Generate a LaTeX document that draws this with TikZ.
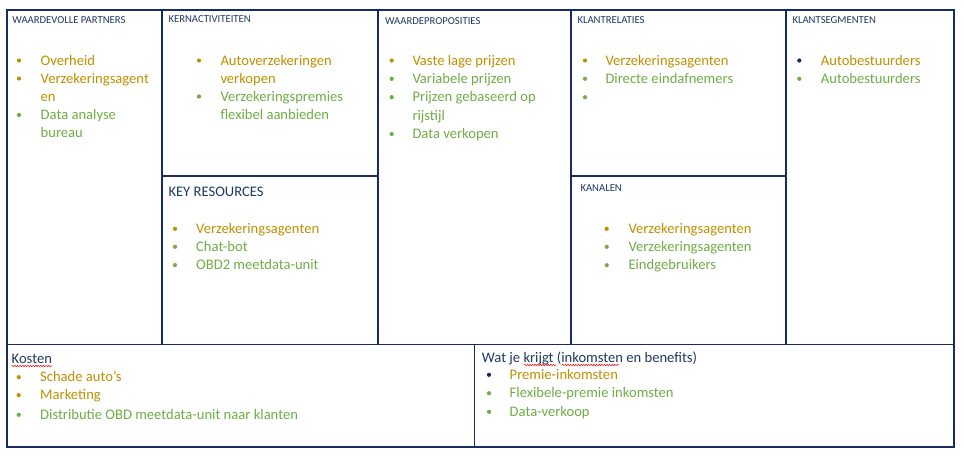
\documentclass[tikz,border=0pt]{standalone}
\usepackage{fontspec}
\setmainfont{Carlito}
\usetikzlibrary{decorations.pathmorphing}
\definecolor{navy}{RGB}{22,44,98}
\definecolor{headc}{RGB}{31,56,100}
\definecolor{goldc}{RGB}{191,144,0}
\definecolor{greenc}{RGB}{112,173,71}
\definecolor{spellred}{RGB}{230,30,30}
\tikzset{
  frame/.style={draw=navy, line width=1.8pt},
  headtxt/.style={anchor=base west, inner sep=0pt, font=\fontsize{10.67}{12}\selectfont, text=headc},
  bigheadtxt/.style={anchor=base west, inner sep=0pt, font=\fontsize{14.6}{17}\selectfont, text=headc},
  itemtxt/.style={anchor=base west, inner sep=0pt, font=\fontsize{14.6}{17}\selectfont},
  spell/.style={draw=spellred, line width=0.6pt, decorate, decoration={snake, amplitude=0.7pt, segment length=2.6pt}}
}
% name, dot x, text x, baseline, dot colour, text colour, text
\newcommand\bul[7]{%
  \fill[#5] (#2,#4-4.5) circle (2.1);
  \node[itemtxt,text=#6] (#1) at (#3,#4) {#7};}
\begin{document}
\begin{tikzpicture}[x=1pt,y=-1pt]
\useasboundingbox (0,0) rectangle (964,458);
\fill[white] (0,0) rectangle (964,458);
% grid
\draw[frame] (7,10) rectangle (954,447);
\draw[frame] (7,344.5) -- (954,344.5);
\draw[frame] (162,10) -- (162,344.5);
\draw[frame] (378.3,10) -- (378.3,344.5);
\draw[frame] (570.7,10) -- (570.7,344.5);
\draw[frame] (786.3,10) -- (786.3,344.5);
\draw[frame] (162,176) -- (378.3,176);
\draw[frame] (570.7,176) -- (786.3,176);
\draw[frame] (474.5,344.5) -- (474.5,447);

% WAARDEVOLLE PARTNERS
\node[headtxt] (hpart) at (12.3,23.3) {WAARDEVOLLE PARTNERS};
\bul{p1}{19}{40.5}{65}{goldc}{goldc}{Overheid}
\bul{p2}{19}{40.5}{83}{goldc}{goldc}{Verzekeringsagent}
\node[itemtxt,text=goldc] (p2b) at (40.5,101) {en};
\bul{p3}{19}{40.5}{119.5}{greenc}{greenc}{Data analyse}
\node[itemtxt,text=greenc] (p3b) at (40.5,137.5) {bureau};

% KERNACTIVITEITEN
\node[headtxt] (hkern) at (168.3,22.3) {KERNACTIVITEITEN};
\bul{k1}{199}{220.3}{65}{goldc}{goldc}{Autoverzekeringen}
\node[itemtxt,text=goldc] (k1b) at (220.3,83) {verkopen};
\bul{k2}{199}{220.3}{101}{greenc}{greenc}{Verzekeringspremies}
\node[itemtxt,text=greenc] (k2b) at (220.3,119.5) {flexibel aanbieden};

% KEY RESOURCES
\node[bigheadtxt] (hkey) at (168.3,196) {KEY RESOURCES};
\bul{r1}{175}{196}{233.3}{goldc}{goldc}{Verzekeringsagenten}
\bul{r2}{175}{196}{251.3}{greenc}{greenc}{Chat-bot}
\bul{r3}{175}{196}{269.6}{greenc}{greenc}{OBD2 meetdata-unit}

% WAARDEPROPOSITIES
\node[headtxt] (hwaarde) at (385,24) {WAARDEPROPOSITIES};
\bul{w1}{391.7}{412.3}{65}{goldc}{goldc}{Vaste lage prijzen}
\bul{w2}{391.7}{412.3}{83.3}{greenc}{greenc}{Variabele prijzen}
\bul{w3}{391.7}{412.3}{101.7}{greenc}{greenc}{Prijzen gebaseerd op}
\node[itemtxt,text=greenc] (w3b) at (412.3,120) {rijstijl};
\bul{w4}{391.7}{412.3}{138.5}{greenc}{greenc}{Data verkopen}

% KLANTRELATIES
\node[headtxt] (hrel) at (577.3,23) {KLANTRELATIES};
\bul{c1}{585}{605.3}{65}{goldc}{goldc}{Verzekeringsagenten}
\bul{c2}{585}{605.3}{83.3}{greenc}{greenc}{Directe eindafnemers}
\fill[greenc] (585,97.2) circle (2.1);

% KANALEN
\node[headtxt] (hkan) at (580.3,191) {KANALEN};
\bul{n1}{606.7}{628.3}{233.3}{goldc}{goldc}{Verzekeringsagenten}
\bul{n2}{606.7}{628.3}{251.3}{greenc}{greenc}{Verzekeringsagenten}
\bul{n3}{606.7}{628.3}{269.7}{greenc}{greenc}{Eindgebruikers}

% KLANTSEGMENTEN
\node[headtxt] (hseg) at (792.3,23) {KLANTSEGMENTEN};
\bul{s1}{799.3}{820.7}{65}{navy}{goldc}{Autobestuurders}
\bul{s2}{799.3}{820.7}{83.3}{greenc}{greenc}{Autobestuurders}

% KOSTEN
\node[bigheadtxt] (hkost) at (11.5,363.3) {Kosten};
\draw[spell] (11.5,366) -- (52,366);
\bul{o1}{18.7}{40}{381.7}{goldc}{goldc}{Schade auto’s}
\bul{o2}{18.7}{40}{399.7}{goldc}{goldc}{Marketing}
\bul{o3}{18.7}{40}{419.3}{greenc}{greenc}{Distributie OBD meetdata-unit naar klanten}

% WAT JE KRIJGT
\node[bigheadtxt] (hwat) at (481.7,362.3) {Wat je krijgt (inkomsten en benefits)};
\draw[spell] (524,365) -- (556,365);
\draw[spell] (562,365) -- (619,365);
\bul{i1}{489}{509.5}{379.3}{navy}{goldc}{Premie-inkomsten}
\bul{i2}{489}{509.5}{397.7}{greenc}{greenc}{Flexibele-premie inkomsten}
\bul{i3}{489}{509.5}{416.3}{greenc}{greenc}{Data-verkoop}
\end{tikzpicture}
\end{document}
